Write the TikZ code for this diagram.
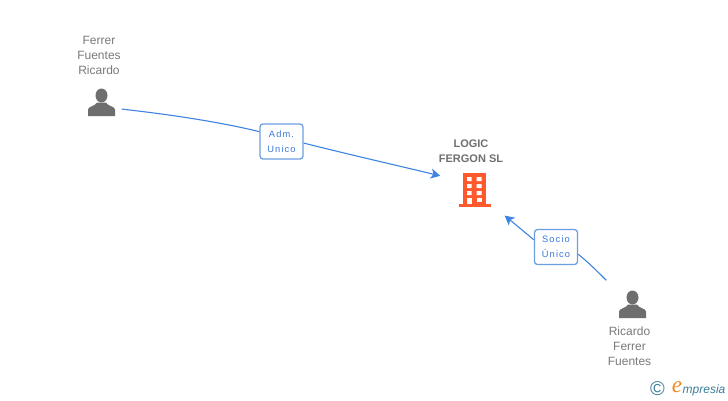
\documentclass[tikz,border=0pt]{standalone}
\usepackage{fontspec}
\setmainfont{Liberation Sans}
\newfontfamily\spaced[LetterSpace=12]{Liberation Sans}
\newfontfamily\brandserif{Liberation Serif}
\usetikzlibrary{arrows.meta}
\definecolor{linkblue}{HTML}{3F84E0}
\definecolor{boxblue}{HTML}{6C9EE2}
\definecolor{labelblue}{HTML}{3C78D8}
\definecolor{greytext}{HTML}{7A7A7A}
\definecolor{icongrey}{HTML}{6E6E6E}
\definecolor{boldgrey}{HTML}{6F6F6F}
\definecolor{orangeb}{HTML}{FF5A2E}
\definecolor{ctealc}{HTML}{3C7F98}
\definecolor{eorange}{HTML}{F28A1E}
\tikzset{
  persontext/.style={text=greytext,font=\fontsize{12}{15}\selectfont,align=center,inner sep=0pt},
  firmtext/.style={text=boldgrey,font=\fontsize{11}{15}\selectfont\bfseries,align=center,inner sep=0pt},
  rolebox/.style={draw=boxblue,line width=1.3pt,rounded corners=3pt,fill=white,text=labelblue,
    font=\fontsize{9.3}{15}\selectfont\spaced,align=center,inner sep=0pt,minimum width=43pt,minimum height=35pt},
  link/.style={draw=linkblue,line width=1.1pt},
  linkarrow/.style={link,-{Stealth[length=9.5pt,width=10pt,inset=2.5pt]}},
  iconanchor/.style={inner sep=0pt,minimum size=1pt}
}
\newcommand{\personicon}[1]{%
  \begin{scope}[shift={(#1)}]
    \fill[icongrey] (0,-7) circle[x radius=6,y radius=7];
    \fill[icongrey] (-13.5,13.5) -- (-13.5,7) .. controls (-13.5,4) and (-6,3.5) .. (-4.5,0) -- (4.5,0)
      .. controls (6,3.5) and (13.5,4) .. (13.5,7) -- (13.5,13.5) -- cycle;
  \end{scope}}
\begin{document}
\begin{tikzpicture}[x=1pt,y=-1pt]
\useasboundingbox (0,0) rectangle (728,400);
\fill[white] (0,0) rectangle (728,400);

\node[persontext] (ptop) at (99,55.3) {Ferrer\\Fuentes\\Ricardo};
\personicon{101.5,102.5}
\node[iconanchor] (ptopicon) at (121,109) {};

\node[firmtext] (firm) at (471,151.3) {LOGIC\\FERGON SL};
\node[iconanchor] (firmin) at (441,176) {};
\node[iconanchor] (firmin2) at (504,215) {};
\begin{scope}[orangeb]
  \fill (463,173) rectangle (486,204);
  \fill (458.5,204) rectangle (490.5,207);
  \fill[white] \foreach \yy in {177,184,191} {(467,\yy) rectangle (471.5,\yy+4) (476.5,\yy) rectangle (481.5,\yy+4)};
  \fill[white] (476.5,198) rectangle (481.5,202);
  \fill[white] (467,198) rectangle (471.5,204);
\end{scope}

\node[persontext] (pbot) at (629.5,346.3) {Ricardo\\Ferrer\\Fuentes};
\personicon{632.5,304.5}
\node[iconanchor] (pboticon) at (607,281) {};

\node[rolebox] (adm) at (281.5,141.5) {Adm.\\Unico};
\node[rolebox] (socio) at (556,247) {Socio\\Único};

\draw[link] (ptopicon) .. controls (170,114.5) and (220,122) .. (adm.156);
\draw[linkarrow] (adm.356) .. controls (345,153.5) and (395,165) .. (firmin);
\draw[link] (pboticon) .. controls (598,272) and (588,262) .. (socio.342);
\draw[linkarrow] (socio.162) -- (firmin2);

\node[inner sep=0pt,text=ctealc,font=\fontsize{20}{20}\selectfont] (copy) at (657.5,388.5) {©};
\node[inner sep=0pt,text=eorange,font=\brandserif\fontsize{23}{23}\selectfont\itshape] (emark) at (677,387.5) {e};
\node[inner sep=0pt,text=ctealc,font=\fontsize{12}{12}\selectfont\itshape,anchor=west] (brand) at (682.5,390) {mpresia};
\end{tikzpicture}
\end{document}
